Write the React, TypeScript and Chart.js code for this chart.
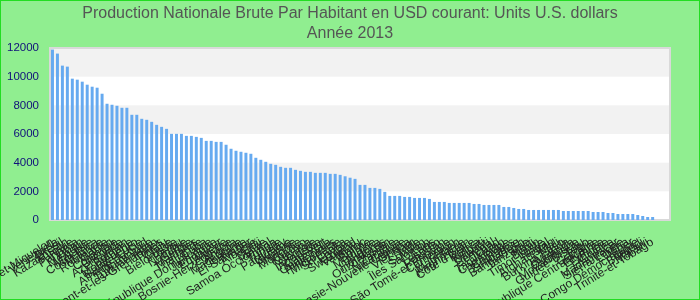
import React, { useEffect, useRef } from 'react';
import { Chart, registerables } from 'chart.js';

Chart.register(...registerables);

const titleLines = [
  'Production Nationale Brute Par Habitant en USD courant: Units U.S. dollars',
  'Année 2013',
];

const countries = [
  'Saint-Pierre-et-Miquelon', 'Venezuela', 'Brésil', 'Kazakhstan', 'Turquie', 'Panama', 'Liban', 'Mexique', 'Malaisie', 'Costa Rica',
  'Maurice', 'Roumanie', 'Gabon', 'Colombie', 'Grenade', 'Azerbaïdjan', 'Bulgarie', 'Monténégro', 'Sainte-Lucie', 'Afrique du Sud',
  'Dominique', 'Turkménistan', 'Saint-Vincent-et-les-Grenadines', 'Tuvalu', 'Chine', 'Biélorussie', 'Pérou', 'Namibie', 'Serbie', 'Maldives',
  'Thaïlande', 'Cuba', 'République Dominicaine', 'Jamaïque', 'Équateur', 'Algérie', 'Bosnie-Herzégovine', 'Angola', 'Macédoine', 'Jordanie',
  'El Salvador', 'Albanie', 'Fidji', 'Belize', 'Samoa Occidental', 'Tonga', 'Tunisie', 'Paraguay', 'Ukraine', 'Arménie',
  'Mongolie', 'Kosovo', 'Guyana', 'Géorgie', 'Indonésie', 'Cap-Vert', 'Guatemala', 'Philippines', 'Micronésie', 'Sri Lanka',
  'Égypte', 'Swaziland', 'Vanuatu', 'Maroc', 'Bolivie', 'Moldavie', 'Nigéria', 'Honduras', 'Ouzbékistan', 'Zambie',
  'Nicaragua', 'Papouasie-Nouvelle-Guinée', 'Ghana', 'Viêt Nam', 'Inde', 'Soudan', 'Îles Salomon', 'Laos', 'Lesotho', 'Pakistan',
  'São Tomé-et-Principe', 'Cameroun', 'Yémen', 'Mauritanie', 'Kirghizistan', "Côte d'Ivoire", 'Kenya', 'Kiribati', 'Djibouti', 'Sénégal',
  'Tchad', 'Tadjikistan', 'Cambodge', 'Comores', 'Zimbabwe', 'Bangladesh', 'Tanzanie', 'Haïti', 'Bénin', 'Timor-Leste',
  'Népal', 'Afghanistan', 'Mali', 'Burkina Faso', 'Rwanda', 'Ouganda', 'Mozambique', 'Guinée-Bissau', 'Togo', 'Gambie',
  'République Centrafricaine', 'Érythrée', 'Éthiopie', 'Guinée', 'Madagascar', 'Sierra Leone', 'Libéria', 'Niger', 'Congo Démocratique', 'Burundi',
  'Malawi', 'Trinité-et-Tobago',
];

const gniPerCapita = [
  11890, 11610, 10770, 10700, 9860, 9790, 9650, 9440, 9300, 9230,
  8810, 8110, 8040, 7970, 7830, 7830, 7340, 7340, 7060, 6990,
  6850, 6640, 6500, 6360, 6010, 6010, 6010, 5870, 5870, 5800,
  5730, 5520, 5520, 5450, 5450, 5250, 4970, 4830, 4760, 4690,
  4620, 4340, 4200, 4060, 3920, 3850, 3710, 3640, 3640, 3500,
  3430, 3360, 3360, 3290, 3290, 3290, 3220, 3220, 3150, 3050,
  2950, 2870, 2450, 2450, 2240, 2240, 2170, 1960, 1680, 1680,
  1680, 1610, 1610, 1540, 1540, 1540, 1470, 1260, 1260, 1260,
  1190, 1190, 1190, 1190, 1190, 1120, 1120, 1050, 1050, 1050,
  1050, 910, 910, 840, 770, 770, 700, 700, 700, 700,
  700, 700, 700, 630, 630, 630, 630, 630, 630, 560,
  560, 560, 490, 490, 420, 420, 420, 420, 350, 280,
  210, 210,
];

// trailing empty slots on the category axis (no data)
const emptySlots = ['', '', ''];

const yMin = 0;
const yMax = 12000;
const yStep = 2000;

const FONT = "'Liberation Sans', Arial, sans-serif";

export default function App() {
  const ref = useRef<HTMLCanvasElement | null>(null);

  useEffect(() => {
    document.body.style.margin = '0';
    const canvas = ref.current;
    if (!canvas) return;

    const backdrop = {
      id: 'backdrop',
      beforeDraw(chart: any) {
        const { ctx, width, height, chartArea: a, scales } = chart;
        ctx.save();
        ctx.fillStyle = '#90ee90';
        ctx.fillRect(0, 0, width, height);
        ctx.strokeStyle = '#22dd22';
        ctx.lineWidth = 2;
        ctx.strokeRect(0, 0, width, height);
        ctx.fillStyle = '#ffffff';
        ctx.fillRect(a.left, a.top, a.right - a.left, a.bottom - a.top);
        const y = scales.y;
        const ticks = y.ticks;
        for (let i = 0; i < ticks.length - 1; i++) {
          if (i % 2 === 1) {
            const p0 = y.getPixelForValue(ticks[i].value);
            const p1 = y.getPixelForValue(ticks[i + 1].value);
            ctx.fillStyle = '#f2f2f2';
            ctx.fillRect(a.left, p1, a.right - a.left, p0 - p1);
          }
        }
        ctx.strokeStyle = '#d9d9d9';
        ctx.lineWidth = 2;
        ctx.strokeRect(a.left, a.top, a.right - a.left, a.bottom - a.top);
        ctx.restore();
      },
    };

    const labels = [...countries, ...emptySlots];

    const chart = new Chart(canvas, {
      type: 'bar',
      data: {
        labels,
        datasets: [
          {
            data: gniPerCapita,
            backgroundColor: 'rgb(102,170,240)',
            borderWidth: 0,
            barPercentage: 0.6,
            categoryPercentage: 1,
            yAxisID: 'y',
          },
        ],
      },
      options: {
        responsive: false,
        animation: false,
        layout: { padding: 0 },
        plugins: {
          legend: { display: false },
          tooltip: { enabled: false },
          title: {
            display: true,
            text: titleLines,
            color: '#555555',
            font: { family: FONT, size: 16, weight: 'normal', lineHeight: 1.25 },
            padding: { top: 4, bottom: 4 },
          },
        },
        scales: {
          x: {
            grid: { display: false, drawTicks: true, tickLength: 8 },
            border: { display: false },
            ticks: {
              autoSkip: false,
              minRotation: 32,
              maxRotation: 32,
              padding: 7,
              color: '#222222',
              font: { family: FONT, size: 12 },
              callback: (value: any) => labels[value as number],
            },
            afterFit: (scale: any) => {
              scale.height = 80;
              scale.paddingLeft = 0;
              scale.paddingRight = 0;
            },
          },
          y: {
            min: yMin,
            max: yMax,
            grid: { display: false, drawTicks: true, tickLength: 8 },
            border: { display: false },
            ticks: {
              stepSize: yStep,
              padding: 3,
              color: '#10107a',
              font: { family: FONT, size: 11.5 },
              callback: (value: any) => String(value),
            },
            afterFit: (scale: any) => {
              scale.width = 50;
            },
          },
          yRight: {
            position: 'right',
            min: yMin,
            max: yMax,
            grid: { display: false, drawTicks: false },
            border: { display: false },
            ticks: { display: false },
            afterFit: (scale: any) => {
              scale.width = 30;
            },
          },
        },
      },
      plugins: [backdrop],
    });

    return () => chart.destroy();
  }, []);

  return (
    <div style={{ width: 700, height: 300 }}>
      <canvas ref={ref} width={700} height={300} style={{ display: 'block' }} />
    </div>
  );
}
